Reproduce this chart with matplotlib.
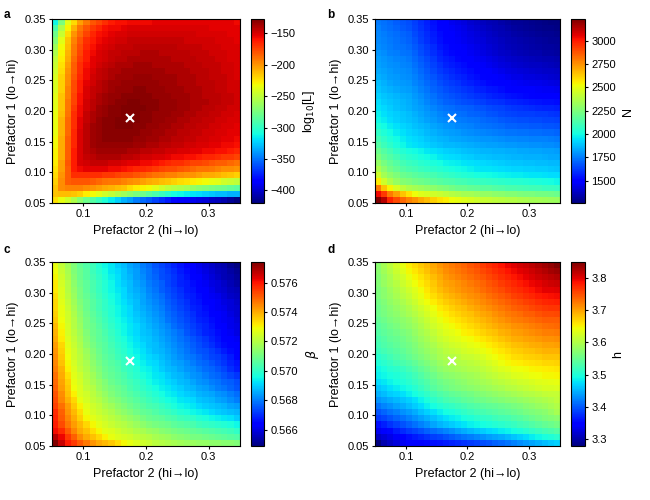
import numpy as np
import matplotlib
matplotlib.use('Agg')
import matplotlib.pyplot as plt
from matplotlib.ticker import FormatStrFormatter, FuncFormatter

plt.rcParams['font.family'] = ['Liberation Sans', 'DejaVu Sans']
plt.rcParams['axes.linewidth'] = 0.8

# grid of cell centres (columns: prefactor 2, rows: prefactor 1)
prefactor2 = [0.055, 0.065, 0.075, 0.085, 0.095, 0.105, 0.115, 0.125, 0.135, 0.145,
              0.155, 0.165, 0.175, 0.185, 0.195, 0.205, 0.215, 0.225, 0.235, 0.245,
              0.255, 0.265, 0.275, 0.285, 0.295, 0.305, 0.315, 0.325, 0.335, 0.345]
prefactor1 = list(prefactor2)
best_prefactor2 = 0.175
best_prefactor1 = 0.188

# rows listed from prefactor1 = 0.055 (bottom) up to 0.345 (top)
loglik = [
 [-224,-235,-244,-256,-268,-279,-288,-297,-306,-315,-323,-332,-338,-347,-353,-358,-364,-370,-376,-382,-385,-388,-391,-394,-397,-402,-405,-408,-414,-420],
 [-215,-212,-212,-215,-218,-227,-232,-238,-244,-250,-256,-262,-268,-274,-279,-285,-291,-297,-303,-309,-312,-315,-317,-320,-323,-326,-329,-329,-332,-332],
 [-215,-197,-194,-194,-194,-197,-200,-203,-206,-209,-212,-215,-221,-227,-230,-232,-238,-244,-250,-253,-256,-259,-265,-268,-271,-274,-276,-279,-282,-285],
 [-218,-197,-183,-180,-180,-180,-183,-186,-189,-191,-191,-194,-197,-200,-203,-206,-209,-212,-215,-218,-221,-224,-227,-230,-232,-235,-238,-244,-247,-250],
 [-221,-200,-183,-168,-168,-168,-168,-168,-171,-171,-174,-177,-177,-180,-183,-186,-189,-191,-194,-194,-197,-200,-200,-203,-206,-206,-209,-212,-215,-218],
 [-224,-203,-183,-162,-156,-153,-153,-153,-153,-156,-156,-159,-162,-165,-165,-168,-171,-174,-177,-177,-180,-183,-186,-189,-189,-191,-194,-197,-197,-200],
 [-227,-203,-180,-162,-150,-148,-145,-145,-145,-148,-148,-150,-153,-153,-156,-156,-159,-162,-165,-168,-168,-171,-174,-174,-177,-180,-183,-183,-186,-189],
 [-230,-206,-183,-162,-150,-145,-142,-139,-139,-139,-139,-142,-142,-145,-148,-148,-150,-150,-153,-156,-156,-159,-159,-162,-165,-165,-168,-171,-171,-174],
 [-230,-206,-183,-162,-150,-142,-139,-136,-136,-136,-136,-136,-139,-139,-142,-142,-145,-145,-148,-148,-150,-150,-153,-153,-156,-156,-159,-159,-162,-165],
 [-232,-206,-183,-165,-150,-142,-136,-133,-133,-133,-133,-133,-133,-136,-136,-139,-139,-142,-142,-145,-145,-148,-148,-150,-150,-153,-153,-156,-156,-159],
 [-232,-206,-183,-165,-150,-142,-136,-133,-130,-130,-130,-130,-130,-133,-133,-136,-136,-139,-139,-142,-142,-145,-145,-148,-148,-150,-150,-153,-153,-156],
 [-235,-209,-186,-165,-150,-142,-136,-133,-130,-130,-130,-130,-130,-130,-133,-133,-136,-136,-139,-139,-142,-142,-145,-145,-148,-148,-150,-150,-153,-153],
 [-235,-209,-186,-168,-153,-142,-136,-133,-130,-130,-128,-128,-128,-130,-130,-133,-133,-136,-136,-139,-139,-142,-142,-145,-145,-148,-148,-150,-150,-153],
 [-235,-209,-186,-168,-153,-145,-139,-133,-130,-130,-128,-128,-127,-128,-130,-130,-133,-133,-136,-136,-139,-139,-142,-142,-145,-145,-148,-148,-150,-150],
 [-235,-212,-189,-168,-156,-145,-139,-136,-133,-130,-130,-128,-128,-128,-130,-130,-133,-133,-133,-136,-136,-139,-139,-142,-142,-145,-145,-148,-148,-150],
 [-238,-215,-191,-171,-156,-148,-142,-136,-133,-130,-130,-128,-128,-128,-128,-130,-130,-133,-133,-133,-136,-136,-139,-139,-142,-142,-145,-145,-148,-148],
 [-238,-215,-191,-174,-159,-148,-142,-139,-136,-133,-130,-130,-128,-128,-130,-130,-130,-133,-133,-133,-136,-136,-139,-139,-139,-142,-142,-145,-145,-148],
 [-238,-215,-194,-174,-159,-150,-145,-139,-136,-133,-133,-130,-130,-130,-130,-130,-133,-133,-133,-136,-136,-136,-139,-139,-142,-142,-142,-145,-145,-148],
 [-241,-218,-194,-177,-162,-150,-145,-142,-139,-136,-133,-133,-133,-130,-130,-133,-133,-133,-136,-136,-136,-139,-139,-139,-142,-142,-145,-145,-148,-148],
 [-241,-218,-197,-177,-162,-153,-148,-142,-139,-136,-136,-133,-133,-133,-133,-133,-133,-136,-136,-136,-139,-139,-139,-142,-142,-142,-145,-145,-148,-148],
 [-241,-218,-197,-180,-165,-156,-148,-145,-142,-139,-136,-136,-136,-133,-133,-133,-136,-136,-136,-136,-139,-139,-139,-142,-142,-145,-145,-145,-148,-150],
 [-244,-221,-200,-183,-168,-156,-150,-145,-142,-139,-139,-136,-136,-136,-136,-136,-136,-136,-139,-139,-139,-139,-142,-142,-142,-145,-145,-148,-148,-150],
 [-247,-224,-203,-183,-168,-159,-153,-148,-145,-142,-139,-139,-139,-136,-136,-136,-139,-139,-139,-139,-139,-142,-142,-142,-145,-145,-145,-148,-148,-150],
 [-250,-227,-206,-186,-171,-162,-153,-150,-148,-145,-142,-142,-139,-139,-139,-139,-139,-139,-139,-142,-142,-142,-142,-145,-145,-145,-148,-148,-150,-150],
 [-256,-230,-209,-189,-174,-162,-156,-150,-148,-145,-145,-142,-142,-142,-139,-139,-139,-142,-142,-142,-142,-142,-145,-145,-145,-148,-148,-148,-150,-150],
 [-262,-232,-212,-191,-177,-165,-159,-153,-150,-148,-145,-145,-145,-142,-142,-142,-142,-142,-142,-142,-145,-145,-145,-145,-148,-148,-148,-150,-150,-150],
 [-271,-238,-215,-194,-180,-168,-162,-156,-153,-150,-148,-148,-145,-145,-145,-145,-145,-145,-145,-145,-145,-148,-148,-148,-148,-148,-150,-150,-150,-153],
 [-279,-247,-221,-200,-186,-174,-165,-159,-156,-153,-150,-150,-148,-148,-148,-148,-148,-148,-148,-148,-148,-148,-148,-150,-150,-150,-150,-150,-153,-153],
 [-291,-256,-230,-209,-191,-180,-171,-165,-159,-156,-156,-153,-150,-150,-150,-150,-150,-150,-150,-150,-150,-150,-150,-150,-150,-153,-153,-153,-153,-153],
 [-312,-274,-238,-221,-203,-191,-180,-174,-168,-162,-159,-159,-156,-156,-156,-156,-153,-153,-153,-153,-153,-153,-153,-153,-153,-153,-153,-153,-153,-156],
]

n_values = [
 [3231,3133,2975,2896,2837,2778,2739,2699,2660,2620,2581,2561,2522,2502,2482,2463,2443,2423,2418,2404,2398,2384,2379,2364,2360,2345,2341,2337,2325,2321],
 [3034,2936,2798,2719,2640,2581,2522,2482,2463,2443,2423,2404,2384,2364,2345,2340,2325,2305,2300,2285,2281,2266,2262,2246,2243,2240,2226,2223,2220,2207],
 [2798,2640,2542,2463,2404,2364,2345,2325,2305,2285,2266,2246,2226,2207,2203,2187,2183,2167,2163,2148,2144,2128,2124,2120,2108,2104,2100,2088,2085,2082],
 [2561,2443,2364,2305,2266,2246,2228,2211,2193,2175,2157,2142,2132,2120,2110,2098,2088,2081,2075,2067,2059,2053,2045,2039,2031,2023,2017,2010,2000,1990],
 [2443,2345,2285,2246,2207,2187,2169,2151,2134,2116,2098,2081,2067,2053,2037,2023,2010,2002,1996,1988,1980,1974,1968,1962,1956,1952,1947,1941,1937,1931],
 [2364,2285,2226,2187,2148,2128,2110,2092,2075,2057,2039,2023,2010,1998,1986,1972,1960,1952,1947,1939,1931,1925,1919,1917,1913,1909,1905,1901,1895,1891],
 [2305,2236,2187,2148,2114,2088,2071,2053,2035,2017,2000,1984,1974,1962,1952,1941,1931,1923,1917,1909,1901,1895,1889,1885,1882,1880,1876,1872,1868,1862],
 [2246,2187,2148,2108,2075,2049,2031,2014,1996,1978,1960,1945,1935,1923,1913,1901,1891,1885,1882,1876,1870,1864,1860,1856,1852,1850,1846,1842,1838,1832],
 [2207,2148,2108,2069,2035,2010,1994,1978,1960,1945,1929,1915,1905,1893,1884,1872,1862,1858,1854,1852,1848,1844,1840,1836,1832,1830,1826,1822,1818,1813],
 [2148,2098,2059,2019,1986,1960,1945,1929,1911,1895,1880,1868,1862,1854,1846,1840,1832,1826,1822,1817,1811,1805,1801,1797,1793,1791,1787,1783,1779,1773],
 [2108,2065,2029,1994,1964,1941,1925,1909,1891,1876,1860,1848,1838,1830,1820,1813,1803,1797,1793,1787,1781,1775,1771,1767,1763,1761,1757,1754,1750,1744],
 [2069,2029,1998,1966,1941,1921,1903,1885,1868,1850,1832,1819,1809,1801,1791,1783,1773,1765,1759,1752,1744,1738,1732,1728,1724,1722,1718,1714,1710,1704],
 [2029,1996,1966,1941,1919,1901,1884,1866,1848,1830,1813,1797,1787,1775,1765,1754,1744,1734,1726,1716,1708,1698,1692,1688,1685,1683,1679,1675,1671,1665],
 [1990,1962,1937,1915,1897,1882,1862,1842,1822,1803,1783,1769,1759,1752,1742,1734,1724,1714,1702,1692,1681,1671,1663,1659,1655,1653,1649,1645,1641,1635],
 [1970,1945,1921,1901,1885,1872,1850,1828,1807,1785,1763,1748,1738,1726,1716,1704,1694,1685,1673,1663,1651,1641,1633,1629,1625,1623,1620,1616,1612,1606],
 [1950,1925,1901,1882,1866,1852,1830,1809,1787,1765,1744,1728,1718,1706,1696,1685,1675,1665,1653,1643,1631,1622,1612,1606,1598,1590,1584,1576,1572,1566],
 [1931,1907,1887,1870,1854,1842,1817,1793,1767,1742,1716,1698,1685,1673,1661,1647,1635,1625,1614,1604,1592,1582,1572,1566,1558,1551,1545,1537,1533,1527],
 [1911,1887,1870,1854,1842,1832,1805,1779,1752,1724,1698,1677,1663,1649,1633,1620,1606,1594,1580,1568,1557,1543,1533,1527,1519,1511,1505,1497,1493,1488],
 [1891,1868,1850,1834,1822,1813,1785,1759,1732,1704,1679,1657,1641,1625,1608,1592,1576,1564,1551,1539,1527,1513,1503,1497,1490,1482,1476,1468,1464,1458],
 [1872,1848,1830,1815,1803,1793,1765,1740,1712,1685,1659,1635,1618,1600,1582,1564,1547,1535,1521,1509,1497,1484,1474,1468,1460,1452,1446,1438,1434,1428],
 [1852,1832,1815,1801,1791,1783,1754,1726,1696,1669,1639,1616,1598,1580,1562,1545,1527,1513,1497,1484,1470,1456,1444,1438,1430,1423,1417,1409,1405,1399],
 [1832,1817,1801,1789,1781,1773,1744,1712,1683,1651,1622,1596,1578,1560,1543,1525,1507,1493,1478,1464,1450,1436,1425,1419,1411,1403,1397,1389,1385,1379],
 [1822,1807,1791,1777,1765,1754,1724,1692,1663,1631,1602,1576,1558,1541,1523,1505,1488,1474,1458,1444,1430,1417,1405,1399,1391,1383,1377,1369,1365,1360],
 [1813,1797,1781,1767,1755,1744,1712,1679,1647,1616,1582,1557,1539,1521,1503,1486,1468,1454,1438,1425,1411,1397,1385,1379,1371,1363,1358,1350,1346,1340],
 [1793,1777,1761,1748,1736,1724,1692,1659,1627,1596,1562,1537,1519,1501,1484,1466,1448,1434,1419,1405,1391,1377,1365,1360,1352,1344,1338,1330,1326,1320],
 [1783,1767,1752,1738,1726,1714,1683,1649,1618,1586,1553,1527,1509,1491,1474,1456,1438,1425,1409,1395,1381,1367,1356,1350,1342,1334,1328,1320,1316,1310],
 [1773,1757,1742,1726,1710,1694,1663,1629,1598,1566,1533,1509,1493,1476,1460,1444,1428,1415,1399,1385,1371,1358,1346,1340,1332,1324,1318,1310,1306,1300],
 [1763,1748,1732,1716,1700,1685,1653,1620,1588,1557,1523,1499,1484,1466,1450,1434,1419,1405,1389,1375,1361,1348,1336,1328,1320,1312,1304,1296,1293,1287],
 [1754,1736,1718,1700,1683,1665,1635,1604,1574,1543,1513,1490,1472,1454,1438,1421,1403,1389,1373,1360,1346,1332,1320,1312,1304,1296,1289,1281,1277,1273],
 [1744,1726,1708,1690,1673,1655,1625,1594,1564,1533,1503,1478,1460,1442,1425,1407,1389,1375,1360,1346,1332,1318,1306,1300,1293,1285,1279,1271,1267,1261],
]

# beta, stored in units of 1e-4
beta_x1e4 = [
 [5774,5766,5759,5755,5751,5747,5743,5740,5738,5736,5733,5730,5728,5726,5724,5723,5721,5720,5719,5718,5717,5716,5716,5715,5715,5714,5714,5713,5713,5712],
 [5768,5762,5755,5750,5744,5740,5737,5734,5731,5728,5726,5725,5724,5722,5721,5720,5718,5717,5716,5714,5713,5712,5711,5711,5710,5709,5708,5707,5706,5705],
 [5761,5757,5751,5745,5740,5737,5733,5730,5727,5726,5724,5722,5721,5719,5718,5716,5715,5713,5712,5711,5710,5709,5708,5707,5706,5705,5704,5703,5702,5700],
 [5759,5753,5747,5742,5738,5734,5730,5727,5725,5723,5721,5720,5718,5716,5714,5712,5711,5710,5709,5707,5706,5705,5704,5702,5701,5700,5699,5698,5697,5695],
 [5758,5751,5745,5740,5735,5730,5727,5725,5723,5721,5719,5717,5715,5713,5711,5709,5708,5707,5705,5704,5702,5701,5700,5698,5697,5695,5694,5693,5692,5690],
 [5757,5750,5743,5738,5733,5728,5725,5723,5721,5719,5716,5714,5712,5710,5708,5707,5705,5703,5702,5700,5698,5697,5695,5694,5693,5691,5690,5689,5688,5687],
 [5754,5748,5742,5736,5731,5727,5724,5722,5719,5717,5714,5712,5710,5708,5706,5704,5703,5701,5699,5697,5695,5694,5693,5691,5690,5689,5688,5687,5685,5684],
 [5753,5745,5739,5734,5728,5725,5722,5720,5717,5714,5712,5710,5708,5706,5704,5702,5700,5698,5696,5695,5693,5692,5691,5689,5688,5687,5685,5684,5682,5680],
 [5752,5744,5737,5731,5726,5724,5721,5718,5715,5712,5710,5708,5706,5704,5702,5700,5698,5696,5694,5693,5691,5690,5689,5687,5686,5685,5683,5682,5680,5678],
 [5750,5742,5736,5729,5726,5722,5720,5716,5713,5711,5709,5707,5704,5702,5700,5698,5696,5694,5693,5691,5690,5688,5687,5685,5684,5682,5680,5679,5677,5675],
 [5749,5741,5735,5728,5725,5721,5718,5715,5712,5709,5707,5705,5703,5701,5699,5696,5694,5693,5691,5690,5688,5687,5685,5683,5682,5680,5679,5677,5676,5674],
 [5748,5740,5733,5727,5724,5720,5717,5713,5710,5708,5706,5704,5701,5699,5697,5695,5693,5692,5690,5688,5687,5685,5683,5682,5680,5678,5677,5675,5673,5671],
 [5746,5739,5731,5726,5722,5719,5715,5712,5709,5707,5705,5702,5700,5698,5695,5694,5692,5690,5688,5687,5685,5683,5682,5680,5678,5677,5675,5673,5670,5668],
 [5745,5737,5730,5725,5721,5718,5714,5711,5708,5706,5704,5701,5699,5696,5694,5692,5691,5689,5687,5685,5684,5682,5680,5678,5677,5675,5673,5671,5669,5667],
 [5744,5736,5729,5724,5721,5717,5713,5710,5707,5705,5702,5700,5697,5695,5693,5691,5690,5688,5686,5684,5682,5680,5679,5677,5675,5673,5672,5670,5668,5665],
 [5743,5735,5728,5724,5720,5716,5712,5709,5706,5704,5701,5699,5696,5694,5692,5690,5688,5687,5685,5683,5681,5679,5677,5675,5674,5672,5670,5668,5666,5664],
 [5742,5734,5727,5723,5719,5714,5711,5708,5706,5703,5700,5698,5695,5693,5691,5689,5688,5686,5684,5682,5680,5678,5676,5674,5672,5670,5668,5666,5665,5663],
 [5740,5732,5726,5722,5718,5713,5710,5707,5705,5702,5699,5697,5694,5692,5690,5689,5687,5685,5683,5681,5679,5677,5675,5673,5671,5669,5667,5665,5663,5662],
 [5739,5731,5725,5721,5717,5712,5709,5707,5704,5701,5698,5695,5693,5691,5689,5688,5686,5684,5682,5680,5678,5675,5673,5671,5669,5668,5666,5664,5662,5660],
 [5738,5730,5725,5720,5716,5711,5709,5706,5703,5700,5697,5695,5693,5691,5689,5687,5685,5683,5681,5678,5676,5674,5672,5670,5669,5667,5665,5663,5661,5660],
 [5736,5729,5724,5720,5715,5711,5708,5705,5702,5699,5696,5694,5692,5690,5688,5686,5684,5682,5679,5677,5675,5673,5671,5669,5668,5666,5664,5662,5661,5659],
 [5735,5728,5724,5719,5714,5710,5707,5704,5701,5698,5695,5693,5691,5689,5687,5685,5683,5681,5678,5676,5674,5672,5670,5668,5667,5665,5663,5662,5660,5658],
 [5734,5728,5723,5718,5713,5709,5706,5703,5700,5698,5695,5693,5691,5688,5686,5684,5682,5680,5677,5675,5673,5671,5669,5668,5666,5664,5662,5661,5659,5658],
 [5734,5727,5722,5717,5712,5709,5706,5703,5700,5697,5694,5692,5690,5688,5685,5683,5681,5679,5676,5674,5672,5670,5668,5667,5665,5663,5662,5660,5659,5657],
 [5733,5726,5721,5716,5711,5708,5705,5702,5699,5696,5694,5691,5689,5687,5685,5682,5680,5678,5675,5673,5671,5669,5668,5666,5664,5662,5661,5659,5657,5656],
 [5732,5726,5720,5715,5711,5707,5704,5701,5698,5695,5693,5691,5688,5686,5684,5681,5679,5676,5674,5672,5670,5668,5667,5665,5663,5661,5659,5658,5656,5655],
 [5732,5725,5720,5714,5710,5707,5704,5701,5698,5695,5692,5690,5688,5685,5683,5680,5678,5676,5673,5671,5669,5668,5666,5664,5662,5660,5659,5657,5655,5653],
 [5730,5724,5719,5713,5709,5706,5703,5700,5697,5694,5692,5689,5687,5684,5682,5679,5677,5674,5673,5671,5669,5667,5665,5663,5661,5659,5657,5655,5654,5652],
 [5729,5723,5718,5712,5709,5706,5702,5699,5696,5693,5691,5689,5686,5684,5681,5679,5676,5674,5672,5670,5668,5666,5664,5662,5660,5658,5656,5655,5653,5651],
 [5728,5722,5717,5712,5708,5705,5702,5698,5695,5693,5690,5688,5685,5683,5680,5678,5675,5673,5671,5669,5667,5665,5663,5661,5659,5657,5655,5654,5651,5649],
]

# h, stored in units of 1e-3
h_x1e3 = [
 [3279,3302,3313,3325,3336,3342,3346,3349,3353,3357,3360,3364,3369,3373,3378,3382,3387,3393,3399,3404,3410,3416,3422,3429,3436,3442,3449,3456,3462,3467],
 [3313,3322,3331,3341,3350,3359,3365,3371,3378,3384,3390,3396,3402,3409,3415,3421,3427,3432,3438,3443,3448,3453,3460,3467,3474,3482,3489,3496,3501,3507],
 [3336,3345,3354,3364,3373,3382,3389,3396,3404,3411,3418,3425,3432,3440,3447,3454,3461,3466,3472,3477,3482,3487,3493,3499,3505,3512,3518,3524,3530,3536],
 [3359,3368,3377,3386,3395,3404,3413,3423,3432,3442,3451,3459,3465,3471,3478,3484,3490,3494,3498,3503,3507,3511,3516,3522,3528,3534,3541,3547,3552,3558],
 [3382,3390,3398,3406,3414,3422,3431,3440,3450,3459,3468,3476,3482,3488,3495,3501,3507,3511,3515,3520,3524,3528,3533,3539,3545,3552,3558,3564,3570,3575],
 [3399,3407,3415,3423,3431,3439,3448,3458,3467,3476,3486,3493,3499,3505,3511,3518,3524,3528,3532,3537,3541,3545,3550,3555,3560,3565,3570,3575,3584,3593],
 [3416,3424,3432,3440,3448,3456,3465,3474,3484,3493,3502,3510,3515,3520,3526,3531,3536,3540,3544,3548,3552,3556,3561,3566,3571,3577,3582,3587,3594,3601],
 [3433,3440,3447,3454,3460,3467,3477,3488,3498,3509,3519,3527,3532,3537,3542,3548,3553,3557,3561,3565,3569,3573,3577,3581,3585,3590,3594,3598,3604,3610],
 [3450,3457,3464,3470,3477,3484,3493,3503,3512,3522,3531,3539,3544,3549,3554,3559,3564,3569,3573,3578,3583,3588,3592,3596,3600,3604,3608,3612,3614,3615],
 [3461,3468,3475,3482,3489,3496,3506,3517,3527,3538,3548,3555,3560,3564,3569,3573,3578,3583,3587,3592,3597,3602,3606,3610,3614,3619,3623,3627,3628,3630],
 [3473,3480,3487,3493,3500,3507,3516,3526,3535,3544,3554,3561,3566,3571,3576,3582,3587,3592,3597,3602,3607,3612,3617,3620,3624,3628,3631,3635,3636,3638],
 [3484,3490,3496,3501,3507,3513,3523,3534,3544,3554,3565,3572,3577,3581,3586,3590,3595,3601,3607,3612,3618,3624,3629,3632,3636,3640,3643,3647,3648,3650],
 [3490,3497,3504,3510,3517,3524,3534,3545,3555,3566,3576,3583,3587,3591,3596,3600,3604,3610,3616,3623,3629,3635,3640,3643,3646,3649,3652,3655,3657,3658],
 [3501,3508,3515,3522,3529,3536,3546,3556,3565,3575,3585,3592,3596,3600,3604,3608,3612,3619,3626,3633,3640,3647,3652,3655,3658,3661,3664,3667,3668,3669],
 [3507,3515,3523,3531,3539,3547,3556,3566,3575,3584,3593,3600,3604,3608,3613,3617,3621,3628,3636,3643,3650,3657,3663,3666,3669,3672,3675,3678,3678,3678],
 [3518,3525,3532,3539,3546,3553,3562,3571,3581,3590,3599,3607,3612,3617,3622,3627,3632,3639,3645,3652,3659,3666,3671,3674,3678,3682,3685,3689,3689,3689],
 [3524,3531,3538,3544,3551,3558,3568,3578,3588,3597,3607,3615,3620,3625,3630,3636,3641,3648,3654,3661,3668,3675,3680,3684,3687,3691,3694,3698,3699,3701],
 [3530,3537,3544,3550,3557,3564,3574,3585,3595,3606,3616,3624,3630,3635,3641,3646,3652,3659,3665,3672,3679,3686,3691,3695,3698,3702,3705,3709,3710,3712],
 [3536,3543,3550,3556,3563,3570,3580,3591,3601,3612,3622,3631,3637,3644,3651,3657,3664,3670,3676,3682,3689,3695,3700,3704,3708,3713,3717,3721,3722,3724],
 [3541,3548,3556,3563,3571,3578,3588,3599,3609,3620,3630,3639,3645,3652,3659,3665,3672,3678,3685,3691,3698,3704,3709,3713,3717,3721,3725,3729,3732,3735],
 [3547,3554,3562,3569,3577,3584,3595,3606,3617,3628,3639,3647,3654,3661,3668,3674,3681,3688,3694,3701,3708,3714,3720,3724,3728,3732,3737,3741,3741,3741],
 [3553,3561,3569,3577,3585,3593,3604,3614,3625,3636,3647,3655,3662,3669,3676,3682,3689,3696,3702,3709,3716,3723,3728,3733,3738,3742,3747,3752,3753,3755],
 [3553,3562,3571,3580,3589,3598,3610,3621,3633,3644,3656,3664,3671,3678,3684,3691,3698,3705,3711,3718,3725,3731,3738,3743,3748,3754,3759,3764,3765,3766],
 [3558,3568,3578,3588,3597,3607,3619,3631,3643,3654,3666,3675,3681,3688,3694,3700,3707,3714,3720,3727,3734,3740,3747,3753,3758,3764,3769,3775,3777,3778],
 [3564,3574,3584,3595,3605,3615,3627,3639,3651,3663,3675,3684,3690,3696,3703,3709,3715,3722,3730,3737,3744,3751,3758,3764,3769,3775,3780,3786,3788,3789],
 [3564,3575,3587,3598,3610,3621,3633,3646,3658,3671,3683,3692,3698,3705,3711,3717,3724,3731,3738,3746,3753,3760,3767,3773,3779,3786,3792,3798,3800,3801],
 [3570,3582,3594,3606,3618,3630,3642,3654,3666,3677,3689,3698,3704,3710,3717,3723,3729,3737,3745,3752,3760,3768,3775,3781,3787,3794,3800,3806,3809,3812],
 [3570,3584,3597,3611,3624,3638,3649,3661,3672,3684,3695,3705,3711,3718,3725,3731,3738,3746,3754,3762,3769,3777,3784,3790,3796,3803,3809,3815,3819,3823],
 [3575,3589,3604,3618,3633,3647,3658,3669,3680,3691,3702,3711,3718,3725,3732,3739,3746,3754,3762,3770,3777,3785,3792,3798,3804,3811,3817,3823,3829,3835],
 [3575,3591,3607,3623,3639,3655,3665,3676,3686,3697,3707,3716,3723,3730,3737,3745,3752,3760,3769,3777,3786,3794,3801,3807,3813,3820,3826,3832,3840,3849],
]

xlabel_text = 'Prefactor 2 (hi\u2192lo)'
ylabel_text = 'Prefactor 1 (lo\u2192hi)'

W, H = 650.0, 500.0


def rect(l, t, r, b):
    return [l / W, 1 - b / H, (r - l) / W, (b - t) / H]


def minus_fmt(v, pos):
    return ('%d' % round(v)).replace('-', '\u2212')


panels = [
    dict(z=np.array(loglik, float), label=r'log$_{10}$[L]', ax=(52, 19, 240, 203),
         cax=(251, 19, 264, 203), ticks=[-400, -350, -300, -250, -200, -150],
         fmt=FuncFormatter(minus_fmt), letter='a', lpos=(4, 18.3)),
    dict(z=np.array(n_values, float), label='N', ax=(375, 19, 560, 203),
         cax=(571, 19, 585, 203), ticks=[1500, 1750, 2000, 2250, 2500, 2750, 3000],
         fmt=FormatStrFormatter('%d'), letter='b', lpos=(327, 17.5)),
    dict(z=np.array(beta_x1e4, float) / 1e4, label=r'$\beta$', ax=(52, 262, 240, 446),
         cax=(251, 262, 264, 446), ticks=[0.566, 0.568, 0.570, 0.572, 0.574, 0.576],
         fmt=FormatStrFormatter('%.3f'), letter='c', lpos=(4, 253)),
    dict(z=np.array(h_x1e3, float) / 1e3, label='h', ax=(375, 262, 560, 446),
         cax=(571, 262, 585, 446), ticks=[3.3, 3.4, 3.5, 3.6, 3.7, 3.8],
         fmt=FormatStrFormatter('%.1f'), letter='d', lpos=(327, 253)),
]

fig = plt.figure(figsize=(6.5, 5), dpi=100)

for p in panels:
    ax = fig.add_axes(rect(*p['ax']))
    mesh = ax.pcolormesh(prefactor2, prefactor1, p['z'], cmap='jet', shading='nearest')
    ax.plot([best_prefactor2], [best_prefactor1], marker='x', color='white',
            markersize=6, mew=1.5, linestyle='none')
    ax.set_xlim(0.05, 0.35)
    ax.set_ylim(0.05, 0.35)
    ax.set_xticks([0.1, 0.2, 0.3])
    ax.set_yticks([0.05, 0.10, 0.15, 0.20, 0.25, 0.30, 0.35])
    ax.xaxis.set_major_formatter(FormatStrFormatter('%.1f'))
    ax.yaxis.set_major_formatter(FormatStrFormatter('%.2f'))
    ax.tick_params(direction='out', length=2.5, width=0.8, labelsize=8, pad=2)
    ax.set_xlabel(xlabel_text, fontsize=9, labelpad=4)
    ax.set_ylabel(ylabel_text, fontsize=9, labelpad=4)

    cax = fig.add_axes(rect(*p['cax']))
    cb = fig.colorbar(mesh, cax=cax)
    cb.set_ticks(p['ticks'])
    cb.ax.yaxis.set_major_formatter(p['fmt'])
    cb.ax.tick_params(direction='out', length=2.5, width=0.8, labelsize=8, pad=2)
    cb.outline.set_linewidth(0.8)
    cb.set_label(p['label'], fontsize=9, labelpad=4)

    fig.text(p['lpos'][0] / W, 1 - p['lpos'][1] / H, p['letter'], fontsize=8.5,
             fontweight='bold', va='baseline', ha='left')

fig.savefig('out.png', dpi=100)
